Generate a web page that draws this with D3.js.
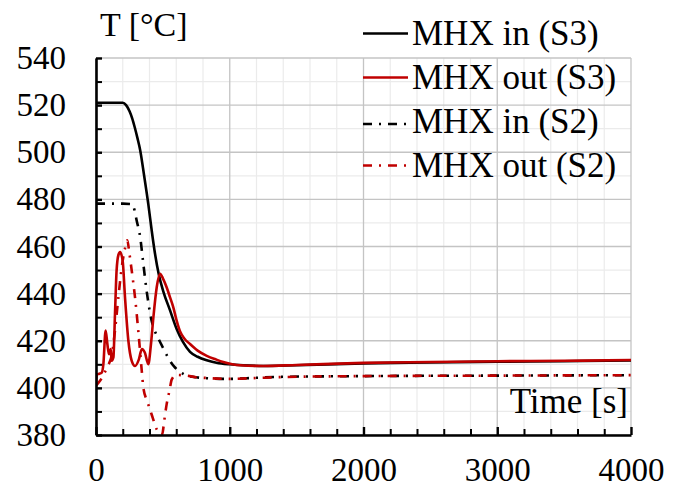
<!DOCTYPE html>
<html><head><meta charset="utf-8">
<script src="https://cdn.jsdelivr.net/npm/d3@7"></script>
<style>
body{margin:0;background:#fff;}
svg text{font-family:"Liberation Serif","Times New Roman",serif;fill:#000;}
</style></head>
<body><svg id="chart" width="680" height="494"></svg>
<script>
// ---- data ----
const xTicks = [0, 1000, 2000, 3000, 4000];
const yTicks = [380, 400, 420, 440, 460, 480, 500, 520, 540];

const inS3Time = [0,100,200,225,250,270,290,310,330,360,391,416,441,470,503,553,603,650,703,760,828,900,1000,1100,1250,1500,2000,2500,3000,3500,4000];
const inS3Temp = [521,521,521,520,517.5,514.5,510.5,506,501,490,478,467,457,448,441,433,425,419.5,415.3,413.2,411.7,410.7,410,409.6,409.3,409.6,410.4,410.8,411.1,411.3,411.6];

const outS3Time = [0,8,25,43,55,72,85,97,110,117,130,142,154,168,180,199,217,242,267,292,320,343,365,391,410,429,454,479,500,528,553,578,603,628,660,703,760,828,900,952,1077,1250,1500,2000,2500,3000,3500,4000];
const outS3Temp = [401.6,405.8,406,406.5,410,424.3,418.6,414.3,416.5,411.5,412.9,431.4,449.8,456.5,457.6,454.1,438.3,420,411.5,409.3,412,416.5,415,410.1,418,429.9,442.7,448.4,446.5,442.7,438.5,434.2,428.5,424,421,418.6,415.8,413.6,412,411,409.6,409.3,409.7,410.6,411,411.3,411.5,411.8];

const inS2Time = [0,100,200,267,290,304,329,354,379,416,441,470,503,553,585,616,650,678,750,828,1000,1200,1400,2000,3000,4000];
const inS2Temp = [478.2,478.2,478.2,478,475,471,464.5,452.6,441,428.5,424,420.5,416.8,411.5,409,407.3,406,405.2,404.5,404.1,403.8,404.3,404.7,405,405.2,405.4];

const outS2Time = [0,30,60,90,117,142,167,192,217,234,250,267,292,316,341,354,385,416,454,480,495,510,528,550,566,600,640,700,750,828,1000,1200,1400,2000,3000,4000];
const outS2Temp = [401,403,406,409.5,413.7,424.3,438.3,451,459.2,462.6,457,449.8,438.3,424.3,408,400.1,394,388.7,382.4,380.2,380.3,386,393,399,403.5,405.5,405.4,405,404.5,404.2,403.8,404.2,404.6,405,405.2,405.4];

const seriesNames = ["MHX in (S3)", "MHX out (S3)", "MHX in (S2)", "MHX out (S2)"];

// ---- drawing ----
const svg = d3.select("#chart");
const L = 96, R = 631, T = 58, B = 435;
const x = d3.scaleLinear().domain([0, 4000]).range([L, R]);
const y = d3.scaleLinear().domain([380, 540]).range([B, T]);

const grid = svg.append("g");
// minor grid
d3.range(0, 4001, 200).filter(v => v % 1000 !== 0).forEach(v => {
  grid.append("line").attr("x1", x(v)).attr("x2", x(v)).attr("y1", T).attr("y2", B)
    .attr("stroke", "#ebebeb").attr("stroke-width", 1.2);
});
d3.range(390, 540, 20).forEach(v => {
  grid.append("line").attr("x1", L).attr("x2", R).attr("y1", y(v)).attr("y2", y(v))
    .attr("stroke", "#ebebeb").attr("stroke-width", 1.2);
});
// major grid
xTicks.forEach(v => {
  grid.append("line").attr("x1", x(v)).attr("x2", x(v)).attr("y1", T).attr("y2", B)
    .attr("stroke", "#c4c4c4").attr("stroke-width", 1.3);
});
yTicks.forEach(v => {
  grid.append("line").attr("x1", L).attr("x2", R).attr("y1", y(v)).attr("y2", y(v))
    .attr("stroke", "#c4c4c4").attr("stroke-width", 1.3);
});

// clip
svg.append("clipPath").attr("id", "clip").append("rect")
  .attr("x", L).attr("y", T - 1).attr("width", R - L).attr("height", B - T + 1);

const line = d3.line().curve(d3.curveMonotoneX).x(d => x(d[0])).y(d => y(d[1]));
const zip = (a, b) => a.map((v, i) => [v, b[i]]);
const styles = [
  {t: inS3Time, v: inS3Temp, c: "#000000", dash: null},
  {t: outS3Time, v: outS3Temp, c: "#c00000", dash: null},
  {t: inS2Time, v: inS2Temp, c: "#000000", dash: "9,7,2,7"},
  {t: outS2Time, v: outS2Temp, c: "#c00000", dash: "9,7,2,7"}
];
const plot = svg.append("g").attr("clip-path", "url(#clip)");
[2, 3, 0, 1].forEach(i => {
  const s = styles[i];
  plot.append("path").attr("d", line(zip(s.t, s.v)))
    .attr("fill", "none").attr("stroke", s.c).attr("stroke-width", 2.6)
    .attr("stroke-dasharray", s.dash);
});

// axes
const yAxis = d3.axisLeft(y).tickValues(d3.range(380, 541, 10)).tickSizeInner(-6).tickSizeOuter(0)
  .tickPadding(30).tickFormat(d => d % 20 === 0 ? d : "");
const gy = svg.append("g").attr("transform", `translate(${L},0)`).call(yAxis);
const xAxis = d3.axisBottom(x).tickValues(d3.range(0, 4001, 200)).tickSizeInner(-6).tickSizeOuter(0)
  .tickPadding(23).tickFormat(d => d % 1000 === 0 ? d : "");
const gx = svg.append("g").attr("transform", `translate(0,${B})`).call(xAxis);
[gx, gy].forEach(g => {
  g.select(".domain").attr("stroke", "#000").attr("stroke-width", 2.6);
  g.selectAll(".tick line").attr("stroke", "#000").attr("stroke-width", 2);
  g.selectAll("text").style("font-size", "33px").attr("font-family", null);
});
gx.selectAll(".tick").filter(d => d % 1000 === 0).select("line").attr("y2", -8).attr("stroke-width", 2.4);
gy.selectAll(".tick").filter(d => d % 20 === 0).select("line").attr("stroke-width", 2.4);

// axis titles
svg.append("text").attr("x", 100).attr("y", 36).style("font-size", "34px").text("T [°C]");
svg.append("text").attr("x", 628).attr("y", 413).attr("text-anchor", "end").style("font-size", "35px").text("Time [s]");

// legend
const legLineY = [33.5, 77.5, 124, 165.5];
const legTextY = [45, 88.5, 132.5, 176.5];
seriesNames.forEach((n, i) => {
  const s = styles[i];
  svg.append("line").attr("x1", 363).attr("x2", 408).attr("y1", legLineY[i]).attr("y2", legLineY[i])
    .attr("stroke", s.c).attr("stroke-width", 2.6).attr("stroke-dasharray", s.dash);
  svg.append("text").attr("x", 412).attr("y", legTextY[i]).style("font-size", "35px").text(n);
});
</script></body></html>
